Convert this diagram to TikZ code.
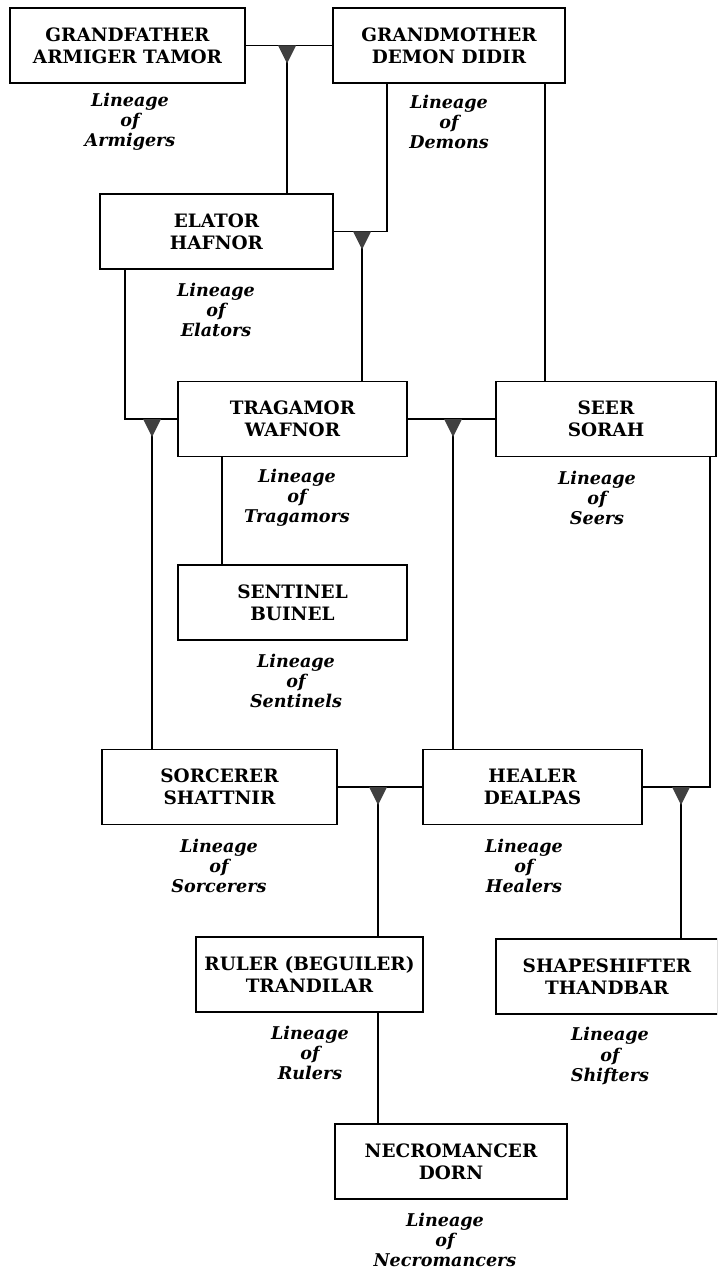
\documentclass[tikz,border=0pt]{standalone}
\usepackage{fontspec}
\setmainfont{DejaVu Serif}
\newcommand{\heirmark}[1]{\fill[black!75] (#1) ++(-9,0) -- ++(18,0) -- ++(-9,18) -- cycle;}

\begin{document}
\begin{tikzpicture}[x=0.02cm, y=-0.02cm,
    person/.style={draw, line width=1.1pt, minimum height=1.5cm, align=center, inner sep=0pt,
        font=\bfseries\fontsize{10.5}{12.5}\selectfont},
    lineage/.style={align=center, inner sep=0pt,
        font=\bfseries\itshape\fontsize{10}{11.4}\selectfont},
    link/.style={line width=0.85pt}]
    \clip (0,0) rectangle (717,1273);
    % boxes
    \node[person, minimum width=4.7cm]  (gfather)  at (127.5,45.5) {GRANDFATHER\\ARMIGER TAMOR};
    \node[person, minimum width=4.64cm] (gmother)  at (449,45.5)   {GRANDMOTHER\\DEMON DIDIR};
    \node[person, minimum width=4.66cm] (elator)   at (216.5,231.5) {ELATOR\\HAFNOR};
    \node[person, minimum width=4.58cm] (tragamor) at (292.5,419)  {TRAGAMOR\\WAFNOR};
    \node[person, minimum width=4.4cm]  (seer)     at (606,419)    {SEER\\SORAH};
    \node[person, minimum width=4.58cm] (sentinel) at (292.5,602.5) {SENTINEL\\BUINEL};
    \node[person, minimum width=4.7cm]  (sorcerer) at (219.5,787)  {SORCERER\\SHATTNIR};
    \node[person, minimum width=4.38cm] (healer)   at (532.5,787)  {HEALER\\DEALPAS};
    \node[person, minimum width=4.54cm] (ruler)    at (309.5,974.5) {RULER (BEGUILER)\\TRANDILAR};
    \node[person, minimum width=4.44cm] (shifter)  at (607,976.5)  {SHAPESHIFTER\\THANDBAR};
    \node[person, minimum width=4.64cm] (necro)    at (451,1161.5) {NECROMANCER\\DORN};
    % lineages
    \node[lineage] (linArm)  at (130,122)  {Lineage\\of\\Armigers};
    \node[lineage] (linDem)  at (449,122)  {Lineage\\of\\Demons};
    \node[lineage] (linEla)  at (216,310)  {Lineage\\of\\Elators};
    \node[lineage] (linTra)  at (297,498)  {Lineage\\of\\Tragamors};
    \node[lineage] (linSee)  at (597,498)  {Lineage\\of\\Seers};
    \node[lineage] (linSen)  at (296,681)  {Lineage\\of\\Sentinels};
    \node[lineage] (linSor)  at (219,866)  {Lineage\\of\\Sorcerers};
    \node[lineage] (linHea)  at (524,866)  {Lineage\\of\\Healers};
    \node[lineage] (linRul)  at (310,1053) {Lineage\\of\\Rulers};
    \node[lineage] (linShi)  at (610,1056) {Lineage\\of\\Shifters};
    \node[lineage] (linNec)  at (445,1240) {Lineage\\of\\Necromancers};
    % branch points
    \coordinate (wed1) at (287,45.5);
    \coordinate (wed2) at (362,231.5);
    \coordinate (wed3) at (152,419);
    \coordinate (wed4) at (453,419);
    \coordinate (wed5) at (378,787);
    \coordinate (wed6) at (681,787);
    \coordinate (dem)  at (387,0);
    \coordinate (sor)  at (545,0);
    \coordinate (ela)  at (125,0);
    \coordinate (tra)  at (222,0);
    \coordinate (see)  at (710,0);
    % connectors
    \draw[link] (gfather) -- (gmother);
    \draw[link] (wed1) -- (wed1 |- elator.north);
    \draw[link] (gmother.south -| dem) |- (elator.east);
    \draw[link] (wed2) -- (wed2 |- tragamor.north);
    \draw[link] (gmother.south -| sor) -- (seer.north -| sor);
    \draw[link] (elator.south -| ela) |- (tragamor.west);
    \draw[link] (wed3) -- (wed3 |- sorcerer.north);
    \draw[link] (tragamor) -- (seer);
    \draw[link] (wed4) -- (wed4 |- healer.north);
    \draw[link] (tragamor.south -| tra) -- (sentinel.north -| tra);
    \draw[link] (seer.south -| see) |- (healer.east);
    \draw[link] (wed6) -- (wed6 |- shifter.north);
    \draw[link] (sorcerer) -- (healer);
    \draw[link] (wed5) -- (wed5 |- ruler.north);
    \draw[link] (ruler.south -| wed5) -- (necro.north -| wed5);
    % heir marks
    \heirmark{wed1}
    \heirmark{wed2}
    \heirmark{wed3}
    \heirmark{wed4}
    \heirmark{wed5}
    \heirmark{wed6}
\end{tikzpicture}
\end{document}
